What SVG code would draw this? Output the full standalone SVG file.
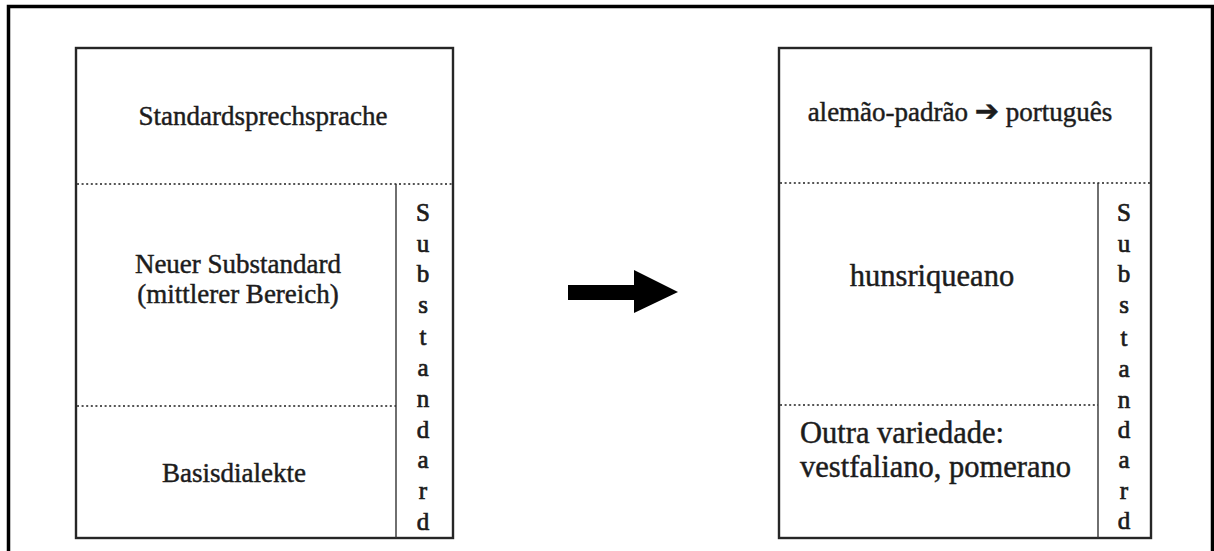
<svg xmlns="http://www.w3.org/2000/svg" width="1214" height="551" viewBox="0 0 1214 551">
  <style>
    .frame { fill: none; stroke: #000; stroke-width: 3.5; }
    .box { fill: #fff; stroke: #262626; stroke-width: 2.4; }
    .rule { stroke: #333; stroke-width: 1.4; }
    .dots { stroke: #555; stroke-width: 1.8; stroke-dasharray: 2 2.6; }
    .t { font-family: "Liberation Serif", "Times New Roman", serif; fill: #1c1c1c; stroke: #1c1c1c; stroke-width: 0.45; }
    .lbl { font-size: 27px; text-anchor: middle; }
    .lbl2 { font-size: 30.5px; }
    .col { font-size: 25px; text-anchor: middle; stroke-width: 0.7; }
  </style>

  <rect width="1214" height="551" fill="#fff"/>
  <!-- outer frame, open at the bottom edge -->
  <rect class="frame" x="8.5" y="6.5" width="1204" height="600"/>

  <!-- left model: German language space -->
  <g id="left-box">
    <rect class="box" x="76" y="48" width="377" height="490"/>
    <line class="dots" x1="77" y1="184" x2="452" y2="184"/>
    <line class="dots" x1="77" y1="406" x2="396" y2="406"/>
    <line class="rule" x1="396" y1="184" x2="396" y2="538"/>
    <text class="t lbl" x="263" y="125">Standardsprechsprache</text>
    <text class="t lbl" x="238" y="273">Neuer Substandard</text>
    <text class="t lbl" x="238" y="303">(mittlerer Bereich)</text>
    <text class="t lbl" x="234" y="482">Basisdialekte</text>
    <g class="t col">
      <text x="423" y="221">S</text>
      <text x="423" y="252">u</text>
      <text x="423" y="282">b</text>
      <text x="423" y="313">s</text>
      <text x="423" y="345">t</text>
      <text x="423" y="376">a</text>
      <text x="423" y="407">n</text>
      <text x="423" y="438">d</text>
      <text x="423" y="468">a</text>
      <text x="423" y="499">r</text>
      <text x="423" y="530">d</text>
    </g>
  </g>

  <!-- right model: situation in Brazil -->
  <g id="right-box">
    <rect class="box" x="779" y="48" width="372" height="490"/>
    <line class="dots" x1="780" y1="183" x2="1150" y2="183"/>
    <line class="dots" x1="780" y1="405" x2="1098" y2="405"/>
    <line class="rule" x1="1098" y1="183" x2="1098" y2="538"/>
    <text class="t lbl" x="960" y="121" font-size="27.5">alemão-padrão <tspan font-family="DejaVu Sans, sans-serif" font-weight="bold" font-size="29">➔</tspan> português</text>
    <text class="t lbl lbl2" x="932" y="286" text-anchor="middle">hunsriqueano</text>
    <text class="t lbl2" x="800" y="443">Outra variedade:</text>
    <text class="t lbl2" x="800" y="477">vestfaliano, pomerano</text>
    <g class="t col">
      <text x="1124" y="221">S</text>
      <text x="1124" y="252">u</text>
      <text x="1124" y="282">b</text>
      <text x="1124" y="313">s</text>
      <text x="1124" y="346">t</text>
      <text x="1124" y="377">a</text>
      <text x="1124" y="408">n</text>
      <text x="1124" y="438">d</text>
      <text x="1124" y="468">a</text>
      <text x="1124" y="499">r</text>
      <text x="1124" y="529">d</text>
    </g>
  </g>

  <!-- transition arrow -->
  <g id="connectors">
    <path d="M568 285 H634 V270 L678 292 L634 313 V300 H568 Z" fill="#000"/>
  </g>
</svg>
